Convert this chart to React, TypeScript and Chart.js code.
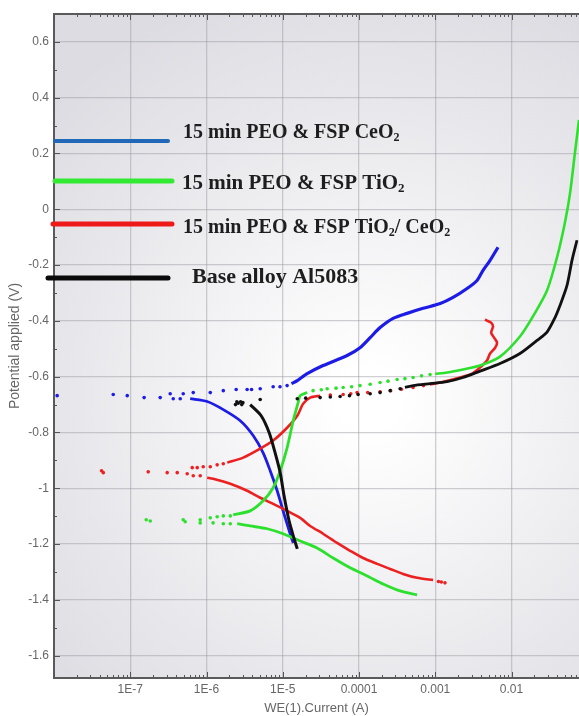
import React, { useEffect, useRef } from "react";
import { Chart, registerables } from "chart.js";

Chart.register(...registerables);

type Pt = [number, number]; // [current (A), potential (V)]

// ---- axes ----
const xTickValues = [1e-7, 1e-6, 1e-5, 1e-4, 1e-3, 1e-2];
const xTickLabels = ["1E-7", "1E-6", "1E-5", "0.0001", "0.001", "0.01"];
const yTickValues = [-1.6, -1.4, -1.2, -1, -0.8, -0.6, -0.4, -0.2, 0, 0.2, 0.4, 0.6];
const yTickLabels = ["-1.6", "-1.4", "-1.2", "-1", "-0.8", "-0.6", "-0.4", "-0.2", "0", "0.2", "0.4", "0.6"];
const xTitle = "WE(1).Current (A)";
const yTitle = "Potential applied (V)";
const xMin = 1e-8;
const xMax = 0.0767;
const yMin = -1.68;
const yMax = 0.7;

const seriesLabels = [
  "15 min PEO & FSP CeO₂",
  "15 min PEO & FSP TiO₂",
  "15 min PEO & FSP TiO₂/ CeO₂",
  "Base alloy Al5083",
];

// ---- 15 min PEO & FSP CeO2 (blue) ----
const ceo2Cathodic: Pt[] = [
  [1.37e-5, -1.196], [1.25e-5, -1.163], [1.01e-5, -1.081], [8.45e-6, -1.009], [6.84e-6, -0.937],
  [5.53e-6, -0.873], [4.09e-6, -0.811], [2.77e-6, -0.758], [1.66e-6, -0.718], [1.02e-6, -0.689],
  [6.11e-7, -0.679],
];
const ceo2Dots: Pt[] = [
  [1.1e-8, -0.668], [5.98e-8, -0.664], [9.13e-8, -0.668], [1.52e-7, -0.675], [2.47e-7, -0.675],
  [3.34e-7, -0.661], [3.66e-7, -0.679], [4.52e-7, -0.679], [4.95e-7, -0.661], [6.7e-7, -0.657],
  [1.12e-6, -0.657], [1.66e-6, -0.65], [2.45e-6, -0.646], [3.41e-6, -0.646], [3.9e-6, -0.646],
  [5.06e-6, -0.643], [7.48e-6, -0.636], [9.2e-6, -0.636], [1.14e-5, -0.632],
];
const ceo2Anodic: Pt[] = [
  [1.3e-5, -0.625], [1.55e-5, -0.614], [2.09e-5, -0.589], [3.38e-5, -0.56], [6.98e-5, -0.524],
  [1.03e-4, -0.496], [1.4e-4, -0.46], [1.89e-4, -0.424], [2.8e-4, -0.391], [4.27e-4, -0.373],
  [6.92e-4, -0.355], [1.16e-3, -0.338], [1.71e-3, -0.316], [2.61e-3, -0.284], [3.53e-3, -0.255],
  [4.23e-3, -0.219], [5.23e-3, -0.183], [6.65e-3, -0.136],
];

// ---- 15 min PEO & FSP TiO2 (green) ----
const tio2Cathodic: Pt[] = [
  [5.77e-4, -1.382], [3.46e-4, -1.368], [2.07e-4, -1.343], [1.28e-4, -1.314], [7.64e-5, -1.285],
  [4.58e-5, -1.25], [2.82e-5, -1.214], [1.69e-5, -1.189], [1.01e-5, -1.163], [6.25e-6, -1.145],
  [3.74e-6, -1.135], [2.53e-6, -1.127],
];
const tio2Dots: Pt[] = [
  [2.05e-6, -1.127], [1.66e-6, -1.127], [1.22e-6, -1.124], [8.27e-7, -1.124], [8.27e-7, -1.113],
  [5.26e-7, -1.12], [4.95e-7, -1.113], [1.83e-7, -1.117], [1.62e-7, -1.113],
  [1.12e-6, -1.106], [1.38e-6, -1.102], [1.66e-6, -1.099], [2.05e-6, -1.099],
  [2.5e-5, -0.65], [3.2e-5, -0.647], [3.82e-5, -0.643], [5e-5, -0.641], [6.19e-5, -0.639],
  [8e-5, -0.636], [1.03e-4, -0.632], [1.4e-4, -0.627], [1.89e-4, -0.621], [2.4e-4, -0.616],
  [3.16e-4, -0.61], [4e-4, -0.607], [5.12e-4, -0.603], [6.6e-4, -0.597], [8.55e-4, -0.592],
];
const tio2Anodic1: Pt[] = [
  [2.24e-6, -1.095], [3.74e-6, -1.081], [5.53e-6, -1.045], [7.48e-6, -0.998], [9.25e-6, -0.937],
  [1.14e-5, -0.855], [1.37e-5, -0.758], [1.59e-5, -0.693], [1.69e-5, -0.668], [2.09e-5, -0.657],
];
const tio2Anodic2: Pt[] = [
  [1.0e-3, -0.59], [1.43e-3, -0.585], [2.31e-3, -0.574], [3.87e-3, -0.56], [7.07e-3, -0.528],
  [1.29e-2, -0.456], [1.91e-2, -0.384], [2.92e-2, -0.291], [3.95e-2, -0.172], [5.02e-2, -0.047],
  [5.85e-2, 0.057], [6.8e-2, 0.205], [7.67e-2, 0.32], [8.2e-2, 0.39],
];

// ---- 15 min PEO & FSP TiO2/CeO2 (red) ----
const mixCathodic: Pt[] = [
  [9.36e-4, -1.329], [5.77e-4, -1.321], [3.78e-4, -1.307], [2.56e-4, -1.289], [1.73e-4, -1.271],
  [1.13e-4, -1.25], [7.64e-5, -1.224], [5.16e-5, -1.196], [3.38e-5, -1.163], [2.29e-5, -1.135],
  [1.69e-5, -1.106], [1.14e-5, -1.081], [7.48e-6, -1.056], [5.06e-6, -1.034], [3.41e-6, -1.009],
  [2.05e-6, -0.984], [1.22e-6, -0.966], [1.02e-6, -0.962],
];
const mixDots: Pt[] = [
  [1.1e-3, -1.334], [1.2e-3, -1.336], [1.34e-3, -1.339],
  [8.27e-7, -0.955], [6.7e-7, -0.955], [5.58e-7, -0.948], [4.13e-7, -0.944], [3.05e-7, -0.944],
  [1.72e-7, -0.941], [4.43e-8, -0.944], [4.2e-8, -0.937],
  [6.5e-7, -0.926], [7.55e-7, -0.926], [9.05e-7, -0.923], [1.12e-6, -0.923], [1.38e-6, -0.916],
  [1.66e-6, -0.912],
  [4.2e-5, -0.666], [6.19e-5, -0.664], [7.8e-5, -0.661], [9.44e-5, -0.657], [1.3e-4, -0.657],
  [1.89e-4, -0.654], [2.6e-4, -0.65], [3.6e-4, -0.645], [5.12e-4, -0.639], [7e-4, -0.632],
];
const mixAnodic1: Pt[] = [
  [1.87e-6, -0.908], [3.03e-6, -0.89], [5.06e-6, -0.858], [7.48e-6, -0.829], [1.14e-5, -0.783],
  [1.55e-5, -0.74], [1.85e-5, -0.697], [2.29e-5, -0.675], [3.09e-5, -0.668],
];
const mixAnodic2: Pt[] = [
  [8.5e-4, -0.628], [1.16e-3, -0.621], [2.11e-3, -0.603], [3.0e-3, -0.59], [3.87e-3, -0.567],
  [4.77e-3, -0.542], [5.23e-3, -0.517], [6.1e-3, -0.496], [6.46e-3, -0.478], [5.9e-3, -0.46],
  [5.4e-3, -0.442], [5.72e-3, -0.42], [5.4e-3, -0.406], [4.77e-3, -0.399], [4.5e-3, -0.395],
];

// ---- Base alloy Al5083 (black) ----
const baseCathodic: Pt[] = [
  [1.55e-5, -1.217], [1.41e-5, -1.181], [1.21e-5, -1.117], [1.04e-5, -1.027], [9.25e-6, -0.944],
  [7.94e-6, -0.873], [6.64e-6, -0.801], [5.21e-6, -0.74], [3.74e-6, -0.7],
];
const baseDots: Pt[] = [
  [2.4e-6, -0.7], [2.5e-6, -0.69], [2.6e-6, -0.695], [2.8e-6, -0.69], [3.0e-6, -0.693], [2.9e-6, -0.7],
  [5.06e-6, -0.682], [1.55e-5, -0.679], [2.0e-5, -0.677], [3.09e-5, -0.675], [4.2e-5, -0.673],
  [5.65e-5, -0.671], [7.5e-5, -0.668], [9.73e-5, -0.664], [1.4e-4, -0.661], [1.89e-4, -0.657],
  [2.56e-4, -0.65], [3.46e-4, -0.643],
];
const baseAnodic: Pt[] = [
  [4.0e-4, -0.638], [5.12e-4, -0.632], [8.55e-4, -0.625], [1.43e-3, -0.618], [2.31e-3, -0.603],
  [3.87e-3, -0.58], [7.07e-3, -0.553], [1.29e-2, -0.517], [2.16e-2, -0.47], [2.92e-2, -0.44],
  [3.72e-2, -0.388], [4.32e-2, -0.345], [5.34e-2, -0.273], [6.21e-2, -0.183], [7.22e-2, -0.111],
];

// ---- styling ----
const BLUE = "#1c1ce6";
const GREEN = "#2ee02e";
const RED = "#ec2020";
const BLACK = "#111111";
const LEGEND_COLORS = ["#2268b8", "#33ea33", "#ee1a1a", "#0a0a0a"];

const xy = (arr: Pt[]) => arr.map((p) => ({ x: p[0], y: p[1] }));

const lineDs = (arr: Pt[], color: string, width = 2.6) => ({
  data: xy(arr),
  showLine: true,
  borderColor: color,
  backgroundColor: color,
  borderWidth: width,
  pointRadius: 0,
  tension: 0.25,
});
const dotDs = (arr: Pt[], color: string) => ({
  data: xy(arr),
  showLine: false,
  backgroundColor: color,
  borderColor: color,
  borderWidth: 0,
  pointRadius: 1.8,
});

const framePlugin = {
  id: "frame",
  beforeDraw(chart: any) {
    const { ctx, chartArea: a, width, height } = chart;
    ctx.save();
    ctx.fillStyle = "#ffffff";
    ctx.fillRect(0, 0, width, height);
    const cx = a.left + (a.right - a.left) * 0.6;
    const cy = a.top + (a.bottom - a.top) * 0.58;
    const g = ctx.createRadialGradient(cx, cy, 30, cx, cy, 430);
    g.addColorStop(0, "#ffffff");
    g.addColorStop(1, "#dcdce2");
    ctx.fillStyle = g;
    ctx.fillRect(a.left, a.top, a.right - a.left, a.bottom - a.top);
    ctx.restore();
  },
  afterDraw(chart: any) {
    const { ctx, chartArea: a } = chart;
    const xs = chart.scales.x;
    const ys = chart.scales.y;
    ctx.save();
    ctx.strokeStyle = "#555";
    ctx.lineWidth = 1;
    ctx.beginPath();
    for (let e = -8; e <= -1; e++) {
      for (let m = 1; m <= 9; m++) {
        const v = m * Math.pow(10, e);
        if (v < xs.min * 0.999 || v > xs.max) continue;
        const px = Math.round(xs.getPixelForValue(v)) + 0.5;
        const len = m === 1 ? 6 : 3;
        ctx.moveTo(px, a.bottom);
        ctx.lineTo(px, a.bottom - len);
        ctx.moveTo(px, a.top);
        ctx.lineTo(px, a.top + len);
      }
    }
    for (let k = -16; k <= 7; k++) {
      const v = k / 10;
      if (v < ys.min || v > ys.max) continue;
      const py = Math.round(ys.getPixelForValue(v)) + 0.5;
      const len = k % 2 === 0 ? 6 : 3;
      ctx.moveTo(a.left, py);
      ctx.lineTo(a.left + len, py);
    }
    ctx.stroke();
    // top frame line
    ctx.lineWidth = 2;
    ctx.strokeStyle = "#5a5a5a";
    ctx.beginPath();
    ctx.moveTo(a.left, a.top);
    ctx.lineTo(a.right, a.top);
    ctx.stroke();

    // legend
    const rows = [
      { x0: 55, x1: 168, ly: 141, tx: 183, ty: 138, size: 20, lw: 4 },
      { x0: 55, x1: 172, ly: 181, tx: 182, ty: 189, size: 21, lw: 5 },
      { x0: 53, x1: 172, ly: 224, tx: 183, ty: 233, size: 20, lw: 5 },
      { x0: 48, x1: 168, ly: 278, tx: 192, ty: 283, size: 22, lw: 5 },
    ];
    rows.forEach((r, i) => {
      ctx.strokeStyle = LEGEND_COLORS[i];
      ctx.lineWidth = r.lw;
      ctx.lineCap = "round";
      ctx.beginPath();
      ctx.moveTo(r.x0, r.ly);
      ctx.lineTo(r.x1, r.ly);
      ctx.stroke();
      ctx.fillStyle = "#1e1e1e";
      ctx.textBaseline = "alphabetic";
      ctx.textAlign = "left";
      const parts = seriesLabels[i].split("₂");
      let cx = r.tx;
      parts.forEach((part, j) => {
        ctx.font = `bold ${r.size}px "Liberation Serif", "Times New Roman", serif`;
        ctx.fillText(part, cx, r.ty);
        cx += ctx.measureText(part).width;
        if (j < parts.length - 1) {
          const s = Math.round(r.size * 0.62);
          ctx.font = `bold ${s}px "Liberation Serif", "Times New Roman", serif`;
          ctx.fillText("2", cx, r.ty + r.size * 0.16);
          cx += ctx.measureText("2").width;
        }
      });
    });
    ctx.restore();
  },
};

export default function App() {
  const ref = useRef<HTMLCanvasElement | null>(null);
  useEffect(() => {
    if (!ref.current) return;
    const chart = new Chart(ref.current, {
      type: "scatter",
      data: {
        datasets: [
          lineDs(baseCathodic, BLACK, 3),
          lineDs(baseAnodic, BLACK, 2.8),
          dotDs(baseDots, BLACK),
          lineDs(tio2Cathodic, GREEN, 2.8),
          lineDs(tio2Anodic1, GREEN, 2.8),
          lineDs(tio2Anodic2, GREEN, 2.6),
          dotDs(tio2Dots, GREEN),
          lineDs(mixCathodic, RED, 2.6),
          lineDs(mixAnodic1, RED, 2.6),
          lineDs(mixAnodic2, RED, 2.6),
          dotDs(mixDots, RED),
          lineDs(ceo2Cathodic, BLUE, 2.8),
          lineDs(ceo2Anodic, BLUE, 3.2),
          dotDs(ceo2Dots, BLUE),
        ] as any,
      },
      options: {
        animation: false,
        responsive: false,
        layout: { autoPadding: false, padding: { top: 14, left: 0, right: 0, bottom: 0 } },
        plugins: { legend: { display: false }, tooltip: { enabled: false } },
        scales: {
          x: {
            type: "logarithmic",
            min: xMin,
            max: xMax,
            afterBuildTicks: (scale: any) => {
              scale.ticks = xTickValues.map((v) => ({ value: v }));
            },
            afterFit: (scale: any) => {
              scale.height = 38;
              scale.paddingLeft = 0;
              scale.paddingRight = 0;
            },
            ticks: {
              autoSkip: false,
              maxRotation: 0,
              padding: 4,
              color: "#666",
              font: { size: 12, family: '"Liberation Sans", Arial, sans-serif' },
              callback: (_v: any, i: number) => xTickLabels[i],
            },
            grid: { color: "rgba(150,150,158,0.45)", lineWidth: 1.3, drawTicks: false },
            border: { display: true, color: "#5a5a5a", width: 2 },
            title: {
              display: true,
              text: xTitle,
              color: "#666",
              padding: { top: 0, bottom: 0 },
              font: { size: 13, family: '"Liberation Sans", Arial, sans-serif' },
            },
          },
          y: {
            type: "linear",
            min: yMin,
            max: yMax,
            afterBuildTicks: (scale: any) => {
              scale.ticks = yTickValues.map((v) => ({ value: v }));
            },
            afterFit: (scale: any) => {
              scale.width = 54;
              scale.paddingTop = 0;
              scale.paddingBottom = 0;
            },
            ticks: {
              autoSkip: false,
              padding: 5,
              color: "#666",
              font: { size: 12, family: '"Liberation Sans", Arial, sans-serif' },
              callback: (_v: any, i: number) => yTickLabels[i],
            },
            grid: { color: "rgba(150,150,158,0.45)", lineWidth: 1.3, drawTicks: false },
            border: { display: true, color: "#5a5a5a", width: 2 },
            title: {
              display: true,
              text: yTitle,
              color: "#666",
              padding: { top: 7, bottom: 0 },
              font: { size: 14, family: '"Liberation Sans", Arial, sans-serif' },
            },
          },
        },
      },
      plugins: [framePlugin],
    } as any);
    return () => chart.destroy();
  }, []);

  return (
    <div style={{ position: "fixed", left: 0, top: 0, width: 579, height: 716, background: "#fff" }}>
      <canvas ref={ref} width={579} height={716} style={{ display: "block" }} />
    </div>
  );
}
